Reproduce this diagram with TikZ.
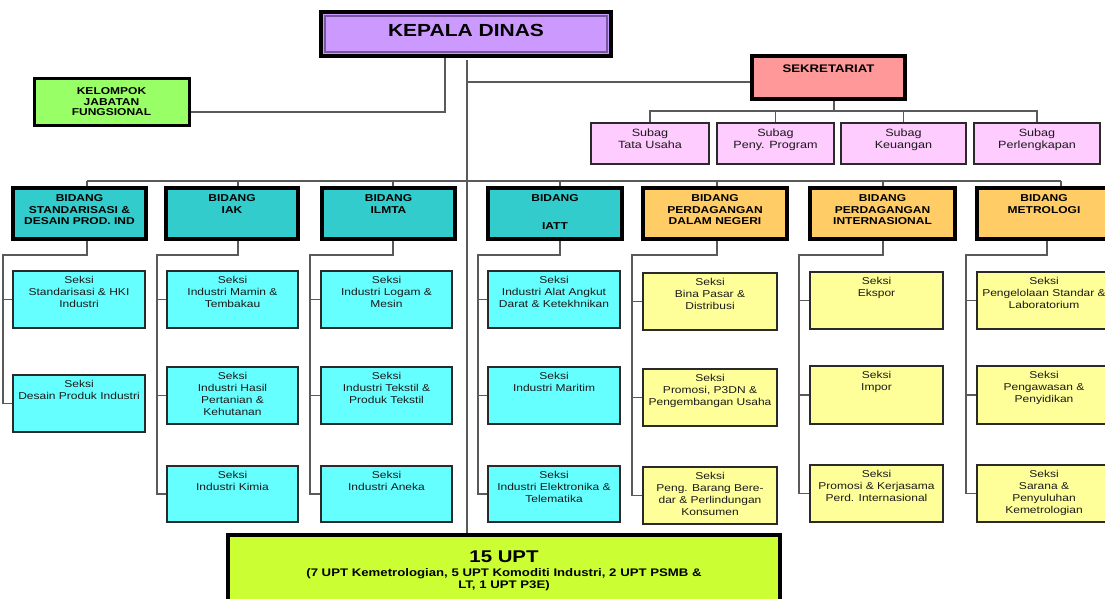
\documentclass[tikz,border=0pt]{standalone}
\usepackage{fontspec}
\setmainfont{Liberation Sans}
\newfontfamily\ls[FakeStretch=1.2]{Liberation Sans}
\definecolor{linec}{HTML}{5A5A5A}
\definecolor{bordS}{HTML}{2A2A2A}
\definecolor{cyanS}{HTML}{66FFFF}
\definecolor{yelS}{HTML}{FFFF99}
\definecolor{tealB}{HTML}{33CCCC}
\definecolor{orB}{HTML}{FFCC66}
\definecolor{pinkS}{HTML}{FFCCFF}
\definecolor{salm}{HTML}{FF9999}
\definecolor{purp}{HTML}{CC99FF}
\definecolor{purpin}{HTML}{7A55A0}
\definecolor{greenK}{HTML}{99FF66}
\definecolor{limeU}{HTML}{CCFF33}
\definecolor{txc}{HTML}{1A1A1A}
\pgfdeclarelayer{background}
\pgfsetlayers{background,main}
\tikzset{
  conn/.style={draw=linec, line width=1.5pt},
  boxbase/.style={rectangle, inner sep=0pt, outer sep=0pt},
  seksiC/.style={boxbase, fill=cyanS, draw=bordS, line width=1.8pt},
  seksiY/.style={boxbase, fill=yelS, draw=bordS, line width=1.8pt},
  bidT/.style={boxbase, fill=tealB, draw=black, line width=3.5pt},
  bidO/.style={boxbase, fill=orB, draw=black, line width=3.5pt},
  subag/.style={boxbase, fill=pinkS, draw=bordS, line width=1.8pt},
  sekr/.style={boxbase, fill=salm, draw=black, line width=3.5pt},
  kepala/.style={boxbase, fill=purp, draw=black, line width=3.5pt},
  kelomp/.style={boxbase, fill=greenK, draw=black, line width=3pt},
  uptb/.style={boxbase, fill=limeU, draw=black, line width=3.5pt},
  kdin/.style={draw=purpin, line width=1.5pt},
  txbase/.style={inner sep=0pt, outer sep=0pt, align=center, anchor=north, text=txc},
  txS/.style={txbase, font=\ls\fontsize{10}{12}\selectfont},
  txB/.style={txbase, text=black, font=\ls\bfseries\fontsize{10}{11.5}\selectfont},
  txSub/.style={txbase, font=\ls\fontsize{10.5}{12}\selectfont},
  txSek/.style={txbase, text=black, font=\ls\bfseries\fontsize{11}{13}\selectfont},
  txKel/.style={txbase, text=black, font=\ls\bfseries\fontsize{10}{10.5}\selectfont},
  txKD/.style={txbase, text=black, font=\ls\bfseries\fontsize{17.5}{20}\selectfont},
  txU1/.style={txbase, text=black, font=\ls\bfseries\fontsize{17}{20}\selectfont},
  txU2/.style={txbase, text=black, font=\ls\bfseries\fontsize{11}{10}\selectfont},
}
% name, box style, x1, y1, x2, y2, text style, top pad, text
\newcommand\obox[9]{%
  \node[#2, minimum width={(#5-#3)*1pt}, minimum height={(#6-#4)*1pt}] (#1) at ({(#3+#5)/2},{(#4+#6)/2}) {};
  \node[#7] (#1t) at ([yshift=-#8pt]#1.north) {\strut #9};
}
\begin{document}
\begin{tikzpicture}[x=1pt,y=-1pt]
\useasboundingbox (0,0) rectangle (1105,598);
\clip (0,0) rectangle (1105,598);

% top level
\obox{kd}{kepala}{321}{12}{611}{56}{txKD}{10.3}{KEPALA DINAS}
\draw[kdin] ([shift={(4pt,-4pt)}]kd.north west) rectangle ([shift={(-4pt,4pt)}]kd.south east);
\obox{kel}{kelomp}{34}{78}{189}{125}{txKel}{9.2}{KELOMPOK\\JABATAN\\FUNGSIONAL}
\obox{sek}{sekr}{752}{56}{905}{99}{txSek}{7}{SEKRETARIAT}
\obox{sub1}{subag}{591}{123}{709}{164}{txSub}{5.3}{Subag\\Tata Usaha}
\obox{sub2}{subag}{717}{123}{834}{164}{txSub}{5.3}{Subag\\Peny. Program}
\obox{sub3}{subag}{841}{123}{966}{164}{txSub}{5.3}{Subag\\Keuangan}
\obox{sub4}{subag}{974}{123}{1100}{164}{txSub}{5.3}{Subag\\Perlengkapan}

% bidang
\obox{b1}{bidT}{13}{188}{146}{239}{txB}{5.5}{BIDANG\\STANDARISASI \&\\DESAIN PROD. IND}
\obox{b2}{bidT}{166}{188}{298}{239}{txB}{5.5}{BIDANG\\IAK}
\obox{b3}{bidT}{322}{188}{455}{239}{txB}{5.5}{BIDANG\\ILMTA}
\obox{b4}{bidT}{488}{188}{622}{239}{txB}{5.5}{BIDANG\\[16.5pt]IATT}
\obox{b5}{bidO}{643}{188}{787}{239}{txB}{5.5}{BIDANG\\PERDAGANGAN\\DALAM NEGERI}
\obox{b6}{bidO}{810}{188}{955}{239}{txB}{5.5}{BIDANG\\PERDAGANGAN\\INTERNASIONAL}
\obox{b7}{bidO}{977}{188}{1111}{239}{txB}{5.5}{BIDANG\\METROLOGI}

% seksi column 1
\obox{k11}{seksiC}{13}{271}{145}{328}{txS}{4}{Seksi\\Standarisasi \& HKI\\Industri}
\obox{k12}{seksiC}{13}{375}{145}{432}{txS}{4}{Seksi\\Desain Produk Industri}
% column 2
\obox{k21}{seksiC}{167}{271}{298}{328}{txS}{4}{Seksi\\Industri Mamin \&\\Tembakau}
\obox{k22}{seksiC}{167}{367}{298}{424}{txS}{4}{Seksi\\Industri Hasil\\Pertanian \&\\Kehutanan}
\obox{k23}{seksiC}{167}{466}{298}{522}{txS}{4}{Seksi\\Industri Kimia}
% column 3
\obox{k31}{seksiC}{321}{271}{452}{328}{txS}{4}{Seksi\\Industri Logam \&\\Mesin}
\obox{k32}{seksiC}{321}{367}{452}{424}{txS}{4}{Seksi\\Industri Tekstil \&\\Produk Tekstil}
\obox{k33}{seksiC}{321}{466}{452}{522}{txS}{4}{Seksi\\Industri Aneka}
% column 4
\obox{k41}{seksiC}{488}{271}{620}{328}{txS}{4}{Seksi\\Industri Alat Angkut\\Darat \& Ketekhnikan}
\obox{k42}{seksiC}{488}{367}{620}{424}{txS}{4}{Seksi\\Industri Maritim}
\obox{k43}{seksiC}{488}{466}{620}{522}{txS}{4}{Seksi\\Industri Elektronika \&\\Telematika}
% column 5
\obox{k51}{seksiY}{643}{273}{777}{330}{txS}{4}{Seksi\\Bina Pasar \&\\Distribusi}
\obox{k52}{seksiY}{643}{369}{777}{426}{txS}{4}{Seksi\\Promosi, P3DN \&\\Pengembangan Usaha}
\obox{k53}{seksiY}{643}{467}{777}{524}{txS}{4}{Seksi\\Peng. Barang Bere-\\dar \& Perlindungan\\Konsumen}
% column 6
\obox{k61}{seksiY}{810}{272}{943}{329}{txS}{4}{Seksi\\Ekspor}
\obox{k62}{seksiY}{810}{366}{943}{424}{txS}{4}{Seksi\\Impor}
\obox{k63}{seksiY}{810}{465}{943}{522}{txS}{4}{Seksi\\Promosi \& Kerjasama\\Perd. Internasional}
% column 7
\obox{k71}{seksiY}{977}{272}{1111}{329}{txS}{4}{Seksi\\Pengelolaan Standar \&\\Laboratorium}
\obox{k72}{seksiY}{977}{366}{1111}{424}{txS}{4}{Seksi\\Pengawasan \&\\Penyidikan}
\obox{k73}{seksiY}{977}{465}{1111}{522}{txS}{4}{Seksi\\Sarana \&\\Penyuluhan\\Kemetrologian}

% UPT
\obox{upt}{uptb}{228}{535}{780}{606}{txU1}{13}{15 UPT}
\node[txU2] (uptt2) at ([yshift=-34pt]upt.north) {\strut (7 UPT Kemetrologian, 5 UPT Komoditi Industri, 2 UPT PSMB \&\\LT, 1 UPT P3E)};

% connectors
\begin{pgfonlayer}{background}
\fill[white] (0,0) rectangle (1105,598);
\coordinate (kj) at (445,112);
\draw[conn] (kj |- kd.south) -- (kj) -- (kj -| kel.east);
\coordinate (mt) at (467,60);
\draw[conn] (mt) -- (mt |- upt.north);
\coordinate (sj) at (467,82);
\draw[conn] (sj) -- (sj -| sek.west);
\coordinate (sb) at (834,111);
\draw[conn] (sb |- sek.south) -- (sb);
\foreach \s in {sub1,sub2,sub3,sub4} \draw[conn] (\s.north) |- (sb);
% bidang bus
\coordinate (d1) at (87,181);
\coordinate (d2) at (238,181);
\coordinate (d3) at (393,181);
\coordinate (d4) at (560,181);
\coordinate (d5) at (717,181);
\coordinate (d6) at (883,181);
\coordinate (d7) at (1061,181);
\draw[conn] (d1) -- (d7);
\foreach \j in {1,...,7} \draw[conn] (d\j) -- (d\j |- b\j.north);
% stems
\coordinate (s1) at (87,255);   \coordinate (v1) at (3,255);
\coordinate (s2) at (238,255);  \coordinate (v2) at (157,255);
\coordinate (s3) at (393,255);  \coordinate (v3) at (310,255);
\coordinate (s4) at (560,255);  \coordinate (v4) at (478,255);
\coordinate (s5) at (717,255);  \coordinate (v5) at (632,255);
\coordinate (s6) at (883,255);  \coordinate (v6) at (799,255);
\coordinate (s7) at (1047,255); \coordinate (v7) at (966,255);
\draw[conn] (s1 |- b1.south) -- (s1) -- (v1) |- (k12.west);
\draw[conn] (k11.west) -- (k11.west -| v1);
\foreach \j in {2,...,7} {
  \draw[conn] (s\j |- b\j.south) -- (s\j) -- (v\j) |- (k\j3.west);
  \draw[conn] (k\j1.west) -- (k\j1.west -| v\j);
  \draw[conn] (k\j2.west) -- (k\j2.west -| v\j);
}
\end{pgfonlayer}
\end{tikzpicture}
\end{document}
